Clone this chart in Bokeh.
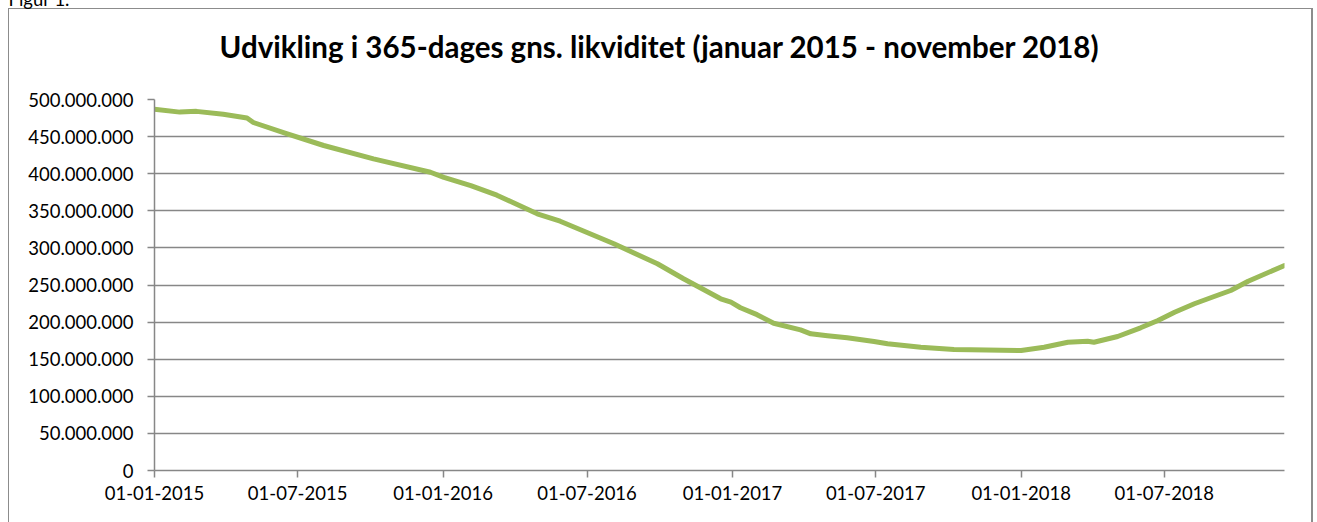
import pandas as pd
from bokeh.plotting import figure
from bokeh.models import FixedTicker, DatetimeTickFormatter, Range1d, Title
from bokeh.embed import file_html
from bokeh.resources import INLINE

# ---- data ----
dates = ["2015-01-01", "2015-02-02", "2015-02-23", "2015-03-29", "2015-04-28", "2015-05-06",
         "2015-06-17", "2015-08-03", "2015-10-05", "2015-12-16", "2016-01-02", "2016-02-05",
         "2016-03-09", "2016-04-29", "2016-05-28", "2016-08-04", "2016-09-28", "2016-10-31",
         "2016-12-17", "2016-12-30", "2017-01-11", "2017-02-01", "2017-02-22", "2017-03-28",
         "2017-04-10", "2017-05-01", "2017-05-26", "2017-06-29", "2017-07-16", "2017-08-27",
         "2017-10-08", "2017-10-29", "2018-01-01", "2018-01-30", "2018-03-01", "2018-03-26",
         "2018-04-03", "2018-05-03", "2018-06-01", "2018-06-23", "2018-07-14", "2018-08-08",
         "2018-09-02", "2018-09-23", "2018-10-15", "2018-11-30"]
values_mio = [487, 483, 484, 480, 475, 469,
              454, 438, 420, 402, 395, 384,
              371, 346, 336, 305.5, 278.6, 258.4,
              231.4, 226.8, 219.3, 210, 198.5, 189.6,
              184.2, 181.5, 178.8, 173.9, 170.8, 166.2,
              163, 162.7, 161.7, 166.2, 172.9, 174.3,
              172.9, 180.6, 192.3, 202.2, 213.3, 224.7,
              234.5, 242.6, 255.1, 276.3]

y_ticks = [0, 50e6, 100e6, 150e6, 200e6, 250e6, 300e6, 350e6, 400e6, 450e6, 500e6]
y_tick_labels = ["0", "50.000.000", "100.000.000", "150.000.000", "200.000.000", "250.000.000",
                 "300.000.000", "350.000.000", "400.000.000", "450.000.000", "500.000.000"]
x_ticks = ["2015-01-01", "2015-07-01", "2016-01-01", "2016-07-01", "2017-01-01",
           "2017-07-01", "2018-01-01", "2018-07-01"]
x_start, x_end = "2015-01-01", "2018-11-30"
title_text = "Udvikling i 365-dages gns. likviditet (januar 2015 - november 2018)"
caption_text = "Figur 1."

# ---- figure ----
xs = pd.to_datetime(dates)
ys = [v * 1e6 for v in values_mio]

FONT = "Lato"
GRAY = "#878787"
BOX = "#8c8c8c"
SHIFT = 16  # canvas rows hidden above the window top (the caption is cut there)

p = figure(width=1317, height=522 + SHIFT, x_axis_type="datetime",
           output_backend="svg", toolbar_location=None,
           x_range=Range1d(pd.Timestamp(x_start), pd.Timestamp(x_end)),
           y_range=Range1d(0, 500e6),
           min_border_left=154, min_border_right=33,
           min_border_top=99 + SHIFT, min_border_bottom=52)
p.outline_line_color = None
p.background_fill_color = None
p.border_fill_color = None

# outer chart box drawn as the element's background (left, top and right edges)
p.styles = {
    "margin-top": "-%dpx" % SHIFT,
    "background-color": "white",
    "background-image": ("linear-gradient(%s,%s), linear-gradient(%s,%s), linear-gradient(%s,%s)"
                         % (BOX, BOX, BOX, BOX, BOX, BOX)),
    "background-position": "8px %dpx, 8px %dpx, 1311px %dpx" % (8 + SHIFT, 8 + SHIFT, 8 + SHIFT),
    "background-size": "1px 700px, 1304px 1px, 2px 700px",
    "background-repeat": "no-repeat",
}

# caption (plot title slot = outermost, at the very top)
p.title.text = caption_text
p.title.align = "left"
p.title.offset = -146
p.title.standoff = 0
p.title.text_font = FONT
p.title.text_font_style = "normal"
p.title.text_font_size = "18.5px"
p.title.text_color = "black"

# chart title + spacer (listed from the frame outward)
main_title = Title(text=title_text, align="left", offset=65, standoff=35,
                   text_font=FONT, text_font_style="bold", text_font_size="29.5px",
                   text_color="black")
spacer = Title(text=" ", standoff=15, text_font_size="1px")
p.above = [spacer, main_title]

# x axis
xt = [pd.Timestamp(d).value / 1e6 for d in x_ticks]
p.xaxis.ticker = FixedTicker(ticks=xt)
fmt = "%d-%m-%Y"
p.xaxis.formatter = DatetimeTickFormatter(
    microseconds=fmt, milliseconds=fmt, seconds=fmt, minsec=fmt, minutes=fmt,
    hourmin=fmt, hours=fmt, days=fmt, months=fmt, years=fmt, context=None)
p.xaxis.major_label_standoff = 8

# y axis
p.yaxis.ticker = FixedTicker(ticks=y_ticks)
p.yaxis.major_label_overrides = {int(t): lab for t, lab in zip(y_ticks, y_tick_labels)}
p.yaxis.major_label_standoff = 14

for ax in (p.xaxis[0], p.yaxis[0]):
    ax.axis_line_color = GRAY
    ax.axis_line_width = 1.5
    ax.major_tick_line_color = GRAY
    ax.major_tick_line_width = 1.5
    ax.major_tick_out = 7
    ax.major_tick_in = 0
    ax.minor_tick_line_color = None
    ax.major_label_text_font = FONT
    ax.major_label_text_font_size = "18.5px"
    ax.major_label_text_color = "black"

p.xgrid.visible = False
p.ygrid.ticker = FixedTicker(ticks=y_ticks)
p.ygrid.grid_line_color = GRAY
p.ygrid.grid_line_width = 1.5

p.line(xs, ys, line_color="#9BBB59", line_width=5, line_join="round", line_cap="round")

open("out.html", "w").write(file_html(p, INLINE))
